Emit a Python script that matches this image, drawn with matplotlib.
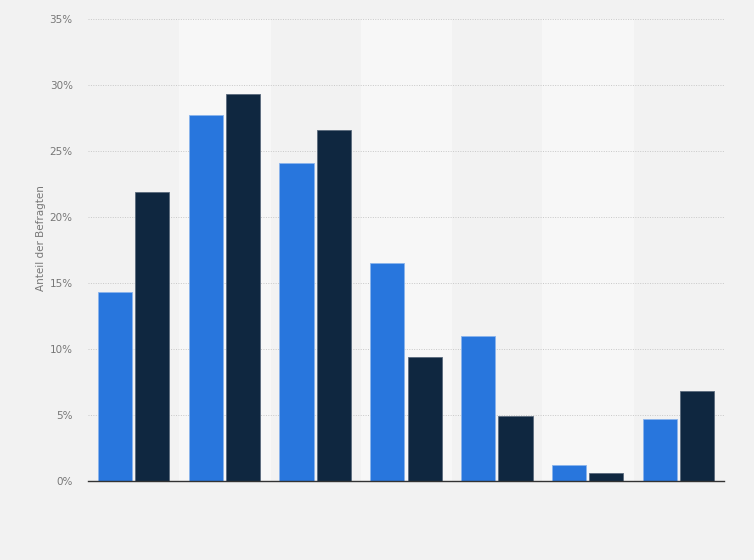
import numpy as np
import matplotlib.pyplot as plt

# survey shares, two series
groups = ["1", "2", "3", "4", "5", "6", "7"]
serie_a = [14.3, 27.7, 24.1, 16.5, 11.0, 1.2, 4.7]
serie_b = [21.9, 29.3, 26.6, 9.4, 4.9, 0.6, 6.8]
y_ticks = [0, 5, 10, 15, 20, 25, 30, 35]

fig = plt.figure(figsize=(7.54, 5.60), dpi=100)
fig.patch.set_facecolor("#f2f2f2")
ax = fig.add_axes([88 / 754, 1 - 481 / 560, 636 / 754, 462 / 560])
ax.set_facecolor("#f2f2f2")

x = np.arange(len(groups))
for i in x:
    if i % 2 == 1:
        ax.axvspan(i - 0.5, i + 0.5, color="#f7f7f7", zorder=0)

w = 0.375
ax.bar(x - 0.205, serie_a, w, color="#2876dd", edgecolor="#8ab4ec", linewidth=0.6, zorder=3)
ax.bar(x + 0.205, serie_b, w, color="#0f2740", edgecolor="#5a6a7c", linewidth=0.6, zorder=3)

ax.set_xlim(-0.5, len(groups) - 0.5)
ax.set_ylim(0, 35)
ax.set_yticks(y_ticks)
ax.set_yticklabels([f"{t}%" for t in y_ticks], color="#777777", fontsize=7.5)
ax.set_xticks([])
ax.tick_params(axis="y", length=0, pad=11)
ax.grid(axis="y", color="#c8c8c8", linestyle=(0, (1, 1.5)), linewidth=0.7, zorder=1)
for s in ["top", "right", "left"]:
    ax.spines[s].set_visible(False)
ax.spines["bottom"].set_color("#333333")
ax.spines["bottom"].set_linewidth(1.0)
ax.spines["bottom"].set_zorder(4)

ax.set_ylabel("Anteil der Befragten", color="#777777", fontsize=7.5)
ax.yaxis.set_label_coords(-0.066, 0.525)

fig.savefig("out.png", dpi=100, facecolor=fig.get_facecolor())
